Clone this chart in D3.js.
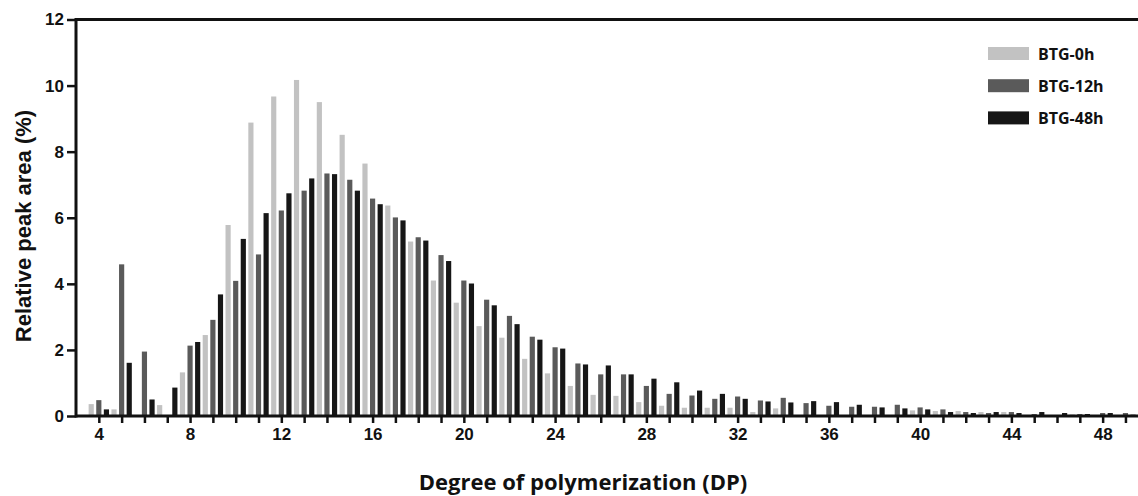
<!DOCTYPE html>
<html>
<head>
<meta charset="utf-8">
<script src="https://cdn.jsdelivr.net/npm/d3@7"></script>
<style>
  body { margin: 0; background: #fff; }
  .tick text { font-family: "Liberation Sans", Arial, sans-serif; font-weight: bold; font-size: 17px; fill: #111; }
</style>
</head>
<body>
<div id="chart"></div>
<script>
// degree of polymerization and relative peak area (%) per sample
const dp = [4,5,6,7,8,9,10,11,12,13,14,15,16,17,18,19,20,21,22,23,24,25,26,27,28,29,30,31,32,33,34,35,36,37,38,39,40,41,42,43,44,45,46,47,48,49];
const btg0h = [0.36,0.2,0,0.33,1.32,2.45,5.78,8.88,9.67,10.17,9.5,8.51,7.64,6.37,5.28,4.1,3.43,2.72,2.37,1.73,1.29,0.91,0.64,0.61,0.42,0.31,0.25,0.25,0.25,0.12,0.23,0,0,0,0,0,0.17,0.15,0.15,0.12,0.12,0,0.02,0.05,0,0];
const btg12h = [0.48,4.59,1.95,0,2.13,2.91,4.09,4.89,6.22,6.82,7.34,7.15,6.58,6.01,5.41,4.87,4.1,3.52,3.03,2.4,2.08,1.59,1.26,1.26,0.91,0.67,0.62,0.52,0.59,0.47,0.55,0.39,0.31,0.28,0.28,0.34,0.26,0.2,0.12,0.09,0.12,0.06,0.02,0.06,0.09,0.09];
const btg48h = [0.2,1.61,0.5,0.86,2.24,3.68,5.36,6.14,6.74,7.19,7.32,6.82,6.41,5.92,5.31,4.69,4.01,3.35,2.78,2.31,2.04,1.56,1.53,1.26,1.13,1.02,0.77,0.67,0.52,0.44,0.41,0.45,0.42,0.34,0.26,0.23,0.2,0.12,0.09,0.12,0.09,0.12,0.09,0.06,0.09,0.04];
const seriesNames = ["BTG-0h", "BTG-12h", "BTG-48h"];
const xLabelTicks = [4,8,12,16,20,24,28,32,36,40,44,48];
const yTicks = [0,2,4,6,8,10,12];

const colors = ["#c2c2c2", "#5a5a5a", "#161616"];
const series = [btg0h, btg12h, btg48h];

const W = 1138, H = 496;
const mLeft = 76, mTop = 19.5, mBottom = 416, mRight = 1138;

const x = d3.scaleLinear().domain([3, 49.55]).range([mLeft, mRight]);
const y = d3.scaleLinear().domain([0, 12]).range([mBottom, mTop]);
const step = x(1) - x(0);
const barW = step / 3 * 0.68;

const svg = d3.select("#chart").append("svg")
    .attr("width", W).attr("height", H);

// bars
series.forEach((vals, s) => {
    svg.append("g")
        .selectAll("rect")
        .data(d3.zip(dp, vals))
        .enter()
        .append("rect")
        .attr("x", d => x(d[0]) + (s - 1) * step / 3 - barW / 2)
        .attr("y", d => y(d[1]))
        .attr("width", barW)
        .attr("height", d => mBottom - y(d[1]))
        .attr("fill", colors[s]);
});

// x axis: tick at every DP, label every 4
const xAxis = svg.append("g")
    .attr("transform", `translate(0,${mBottom})`)
    .call(d3.axisBottom(x)
        .tickValues(dp)
        .tickSize(7)
        .tickPadding(5)
        .tickFormat(d => xLabelTicks.includes(d) ? d : ""));
xAxis.select(".domain").remove();
xAxis.selectAll(".tick line").attr("stroke", "#111").attr("stroke-width", 2.5);

// y axis
const yAxis = svg.append("g")
    .attr("transform", `translate(${mLeft},0)`)
    .call(d3.axisLeft(y).tickValues(yTicks).tickSize(9).tickPadding(3));
yAxis.select(".domain").remove();
yAxis.selectAll(".tick line").attr("stroke", "#111").attr("stroke-width", 2.5);

// frame lines: left, bottom, top
const frame = svg.append("g").attr("stroke", "#111").attr("stroke-width", 3);
frame.append("line")
    .attr("x1", mLeft).attr("x2", mLeft)
    .attr("y1", y(0) + 1.5).attr("y2", y(12) - 1.5);
frame.append("line")
    .attr("x1", mLeft).attr("x2", mRight)
    .attr("y1", y(0)).attr("y2", y(0));
frame.append("line")
    .attr("x1", mLeft).attr("x2", mRight)
    .attr("y1", y(12)).attr("y2", y(12));

// axis titles
svg.append("text")
    .attr("x", 583).attr("y", 490)
    .attr("text-anchor", "middle")
    .style("font-family", "'Open Sans', sans-serif")
    .style("font-weight", "bold")
    .style("font-size", "22px")
    .style("fill", "#111")
    .text("Degree of polymerization (DP)");

svg.append("text")
    .attr("transform", `translate(31,226) rotate(-90)`)
    .attr("text-anchor", "middle")
    .style("font-family", "'Liberation Sans', Arial, sans-serif")
    .style("font-weight", "bold")
    .style("font-size", "22px")
    .style("fill", "#111")
    .text("Relative peak area (%)");

// legend
const legend = svg.append("g").attr("transform", "translate(988,47)");
seriesNames.forEach((name, i) => {
    legend.append("rect")
        .attr("x", 0).attr("y", i * 32.2)
        .attr("width", 41).attr("height", 13)
        .attr("fill", colors[i]);
    legend.append("text")
        .attr("x", 50).attr("y", i * 32.2 + 12.5)
        .style("font-family", "'Open Sans', sans-serif")
        .style("font-weight", "bold")
        .style("font-size", "16px")
        .style("fill", "#111")
        .text(name);
});
</script>
</body>
</html>
